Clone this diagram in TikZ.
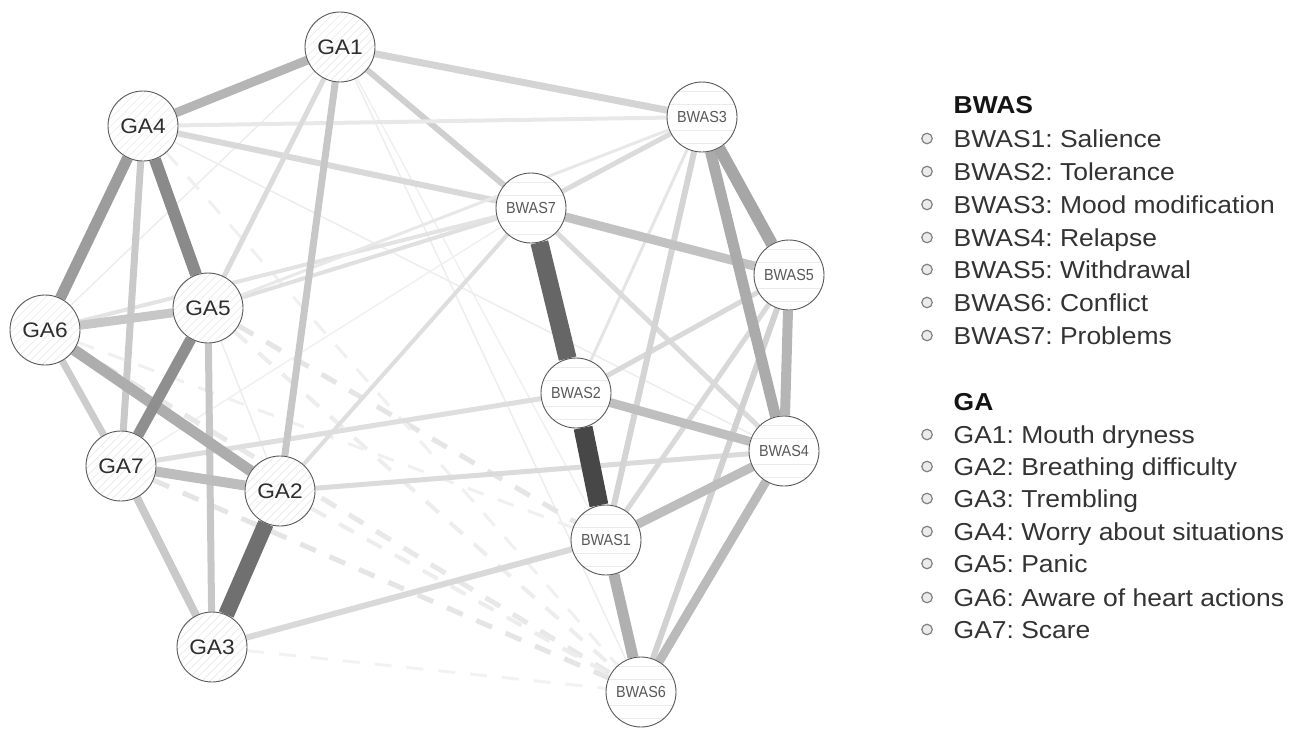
\documentclass[tikz,border=0pt]{standalone}
\usepackage{fontspec}
\setmainfont{Liberation Sans}[FakeStretch=1.08]
\newfontfamily\bwfont{Liberation Sans}[FakeStretch=0.9]
\frenchspacing
\pgfdeclarelayer{background}
\pgfdeclarelayer{mid}
\pgfsetlayers{background,mid,main}
\tikzset{
  ganode/.style={circle, draw=black!65, line width=0.9pt, minimum size=70pt, inner sep=0pt,
    text=black!82, font=\fontsize{21pt}{22pt}\selectfont},
  bwnode/.style={circle, draw=black!65, line width=0.9pt, minimum size=70pt, inner sep=0pt,
    text=black!65, font=\bwfont\fontsize{16pt}{18pt}\selectfont},
  e/.style n args={2}{draw=black!#1, line width=#2pt},
  ed/.style n args={2}{draw=black!#1, line width=#2pt, dash pattern=on 17pt off 15pt},
  hatchline/.style={draw=black!8, line width=0.7pt},
  legtext/.style={anchor=base west, inner sep=0pt, text=black!80, font=\fontsize{24.5pt}{28pt}\selectfont},
  leghead/.style={anchor=base west, inner sep=0pt, text=black!92, font=\bfseries\fontsize{24.5pt}{28pt}\selectfont},
  bullet/.style={circle, draw=black!50, fill=black!8, line width=1.2pt, minimum size=10.5pt, inner sep=0pt}
}
\newcommand\gadeco[1]{%
  \begin{scope}[shift={(#1.center)}]
    \fill[white] (0,0) circle (35);
    \clip (0,0) circle (35);
    \foreach \k in {-80,-72,...,80} \draw[hatchline] (\k-40,40) -- (\k+40,-40);
  \end{scope}}
\newcommand\bwdeco[1]{%
  \begin{scope}[shift={(#1.center)}]
    \fill[white] (0,0) circle (35);
    \clip (0,0) circle (35);
    \foreach \k in {-26,-13,13,26} \draw[hatchline] (-40,\k) -- (40,\k);
  \end{scope}}
\begin{document}
\begin{tikzpicture}[x=1pt, y=-1pt]
\useasboundingbox (0,0) rectangle (1298,728);
% nodes
\node[ganode] (GA1) at (340,47) {GA1};
\node[ganode] (GA4) at (143,126) {GA4};
\node[ganode] (GA5) at (208,308) {GA5};
\node[ganode] (GA6) at (45,330) {GA6};
\node[ganode] (GA7) at (121,466) {GA7};
\node[ganode] (GA2) at (280,491) {GA2};
\node[ganode] (GA3) at (212,647) {GA3};
\node[bwnode] (BWAS7) at (531,208) {BWAS7};
\node[bwnode] (BWAS3) at (702,117) {BWAS3};
\node[bwnode] (BWAS5) at (789,275) {BWAS5};
\node[bwnode] (BWAS2) at (576,393) {BWAS2};
\node[bwnode] (BWAS4) at (784,451) {BWAS4};
\node[bwnode] (BWAS1) at (606,540) {BWAS1};
\node[bwnode] (BWAS6) at (641,692) {BWAS6};
\begin{pgfonlayer}{mid}
\foreach \n in {GA1,GA2,GA3,GA4,GA5,GA6,GA7} {\gadeco{\n}}
\foreach \n in {BWAS1,BWAS2,BWAS3,BWAS4,BWAS5,BWAS6,BWAS7} {\bwdeco{\n}}
\end{pgfonlayer}
\begin{pgfonlayer}{background}
% very faint thin edges
\draw[e={7}{1.5}] (GA1) -- (GA6);
\draw[e={7}{1.5}] (GA4) -- (BWAS4);
\draw[e={7}{1.5}] (GA1) -- (BWAS6);
\draw[e={6}{1.5}] (GA1) -- (BWAS1);
\draw[e={7}{1.5}] (GA5) -- (GA2);
\draw[e={6}{1.5}] (GA7) -- (BWAS7);
\draw[e={6}{1.5}] (BWAS7) -- (BWAS1);
\draw[e={5}{1.5}] (BWAS2) -- (BWAS6);
% dashed (negative) edges
\draw[ed={10}{5}] (GA5) -- (BWAS1);
\draw[ed={9}{5}] (GA6) -- (BWAS6);
\draw[ed={10}{5}] (GA7) -- (BWAS6);
\draw[ed={7}{4}] (GA2) -- (BWAS6);
\draw[ed={7}{4}] (GA5) -- (BWAS6);
\draw[ed={5}{3}] (GA3) -- (BWAS6);
\draw[ed={6}{3}] (GA4) -- (BWAS6);
\draw[ed={6}{3}] (GA6) -- (BWAS1);
% light cross edges
\draw[e={17}{7}] (GA1) -- (BWAS3);
\draw[e={19}{6}] (GA1) -- (BWAS7);
\draw[e={15}{6}] (GA4) -- (BWAS7);
\draw[e={9}{4}] (GA4) -- (BWAS3);
\draw[e={12}{4}] (GA5) -- (BWAS7);
\draw[e={11}{4}] (GA6) -- (BWAS7);
\draw[e={9}{3}] (GA5) -- (BWAS3);
\draw[e={13}{4}] (GA2) -- (BWAS7);
\draw[e={13}{5}] (GA7) -- (BWAS2);
\draw[e={14}{5}] (GA2) -- (BWAS4);
\draw[e={15}{6}] (GA3) -- (BWAS1);
% GA cluster
\draw[e={14}{5}] (GA1) -- (GA5);
\draw[e={22}{7}] (GA1) -- (GA2);
\draw[e={20}{7}] (GA6) -- (GA7);
\draw[e={22}{7}] (GA5) -- (GA3);
\draw[e={21}{8}] (GA7) -- (GA3);
\draw[e={21}{7}] (GA4) -- (GA7);
\draw[e={22}{9}] (GA5) -- (GA6);
\draw[e={26}{10}] (GA7) -- (GA2);
\draw[e={29}{9}] (GA1) -- (GA4);
\draw[e={32}{11}] (GA6) -- (GA2);
\draw[e={39}{11}] (GA4) -- (GA6);
\draw[e={44}{11}] (GA5) -- (GA7);
\draw[e={46}{12}] (GA4) -- (GA5);
\draw[e={56}{16}] (GA2) -- (GA3);
% BWAS cluster
\draw[e={10}{3}] (BWAS3) -- (BWAS2);
\draw[e={14}{5}] (BWAS7) -- (BWAS3);
\draw[e={14}{5}] (BWAS7) -- (BWAS4);
\draw[e={15}{5}] (BWAS5) -- (BWAS2);
\draw[e={15}{5}] (BWAS5) -- (BWAS1);
\draw[e={18}{6}] (BWAS5) -- (BWAS6);
\draw[e={17}{6}] (BWAS3) -- (BWAS1);
\draw[e={24}{9}] (BWAS7) -- (BWAS5);
\draw[e={25}{9}] (BWAS2) -- (BWAS4);
\draw[e={26}{9}] (BWAS1) -- (BWAS4);
\draw[e={27}{9}] (BWAS4) -- (BWAS6);
\draw[e={29}{10}] (BWAS5) -- (BWAS4);
\draw[e={31}{11}] (BWAS1) -- (BWAS6);
\draw[e={33}{11}] (BWAS3) -- (BWAS4);
\draw[e={35}{12}] (BWAS3) -- (BWAS5);
\draw[e={60}{18}] (BWAS7) -- (BWAS2);
\draw[e={72}{19}] (BWAS2) -- (BWAS1);
\end{pgfonlayer}
% legend
\node[leghead] (hB) at (953.5,113) {BWAS};
\node[legtext] (b1) at (953.5,147) {BWAS1: Salience};
\node[legtext] (b2) at (953.5,180) {BWAS2: Tolerance};
\node[legtext] (b3) at (953.5,213) {BWAS3: Mood modification};
\node[legtext] (b4) at (953.5,246) {BWAS4: Relapse};
\node[legtext] (b5) at (953.5,278) {BWAS5: Withdrawal};
\node[legtext] (b6) at (953.5,311) {BWAS6: Conflict};
\node[legtext] (b7) at (953.5,344) {BWAS7: Problems};
\node[leghead] (hG) at (953.5,410) {GA};
\node[legtext] (g1) at (953.5,443) {GA1: Mouth dryness};
\node[legtext] (g2) at (953.5,475) {GA2: Breathing difficulty};
\node[legtext] (g3) at (953.5,507) {GA3: Trembling};
\node[legtext] (g4) at (953.5,540) {GA4: Worry about situations};
\node[legtext] (g5) at (953.5,572) {GA5: Panic};
\node[legtext] (g6) at (953.5,606) {GA6: Aware of heart actions};
\node[legtext] (g7) at (953.5,638) {GA7: Scare};
\foreach \b/\y in {pb1/147,pb2/180,pb3/213,pb4/246,pb5/278,pb6/311,pb7/344,
                   pg1/443,pg2/475,pg3/507,pg4/540,pg5/572,pg6/606,pg7/638}
  \node[bullet] (\b) at (927,\y-8.5) {};
\end{tikzpicture}
\end{document}
